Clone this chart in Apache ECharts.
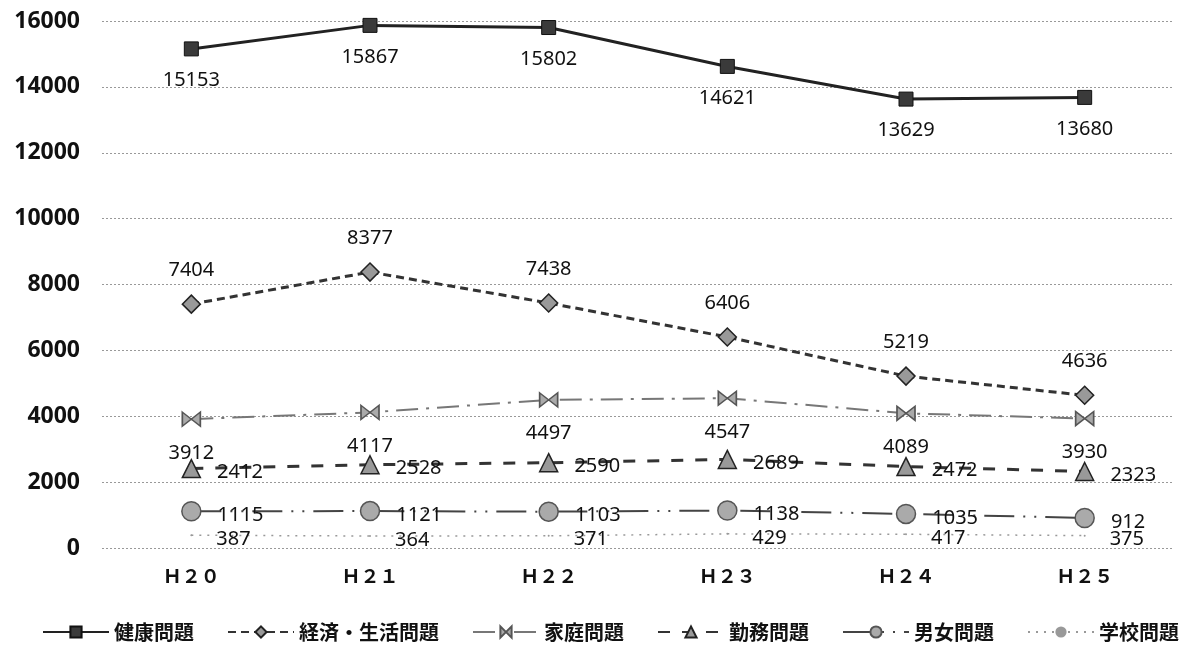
<!DOCTYPE html>
<html>
<head>
<meta charset="utf-8">
<script src="https://cdn.jsdelivr.net/npm/echarts@6/dist/echarts.min.js"></script>
<style>
html,body{margin:0;padding:0;background:#fff;}
#chart{width:1196px;height:646px;}
</style>
</head>
<body>
<div id="chart"></div>
<script>
const categories = ['Ｈ２０','Ｈ２１','Ｈ２２','Ｈ２３','Ｈ２４','Ｈ２５'];
const seriesNames = ['健康問題','経済・生活問題','家庭問題','勤務問題','男女問題','学校問題'];
const health  = [15153,15867,15802,14621,13629,13680];
const economy = [7404,8377,7438,6406,5219,4636];
const family  = [3912,4117,4497,4547,4089,3930];
const work    = [2412,2528,2590,2689,2472,2323];
const gender  = [1115,1121,1103,1138,1035,912];
const school  = [387,364,371,429,417,375];
const yTicks  = {min:0, max:16000, interval:2000};

const labelFont = {fontFamily:'"Noto Sans", sans-serif', fontSize:20, color:'#111'};

const chart = echarts.init(document.getElementById('chart'), null, {renderer:'canvas'});
chart.setOption({
  backgroundColor:'#fff',
  animation:false,
  grid:{left:102, right:22, top:21, bottom:98, containLabel:false},
  xAxis:{
    type:'category', data:categories, boundaryGap:true,
    axisLine:{show:false}, axisTick:{show:false},
    axisLabel:{margin:18, fontFamily:'"Noto Sans CJK JP", sans-serif', fontWeight:'bold', fontSize:19, color:'#111'}
  },
  yAxis:{
    type:'value', min:yTicks.min, max:yTicks.max, interval:yTicks.interval,
    axisLine:{show:false}, axisTick:{show:false},
    axisLabel:{margin:22, fontFamily:'"Noto Sans", sans-serif', fontWeight:'bold', fontSize:23, color:'#111',
      formatter:(v)=>String(v)},
    splitLine:{lineStyle:{color:'#999', width:1, type:[2,2]}}
  },
  legend:{
    top:622, left:42, padding:0, itemWidth:66, itemHeight:14, itemGap:33,
    textStyle:{fontFamily:'"Noto Sans CJK JP", sans-serif', fontWeight:'bold', fontSize:20, color:'#111'},
    data:seriesNames
  },
  series:[
    {name:seriesNames[0], type:'line', data:health, symbol:'rect', symbolSize:14,
     lineStyle:{color:'#222', width:3, type:'solid'},
     itemStyle:{color:'#3a3a3a', borderColor:'#111', borderWidth:1},
     label:{show:true, position:'bottom', distance:14, ...labelFont}},
    {name:seriesNames[1], type:'line', data:economy, symbol:'diamond', symbolSize:18,
     lineStyle:{color:'#333', width:3, type:[8,5]},
     itemStyle:{color:'#999', borderColor:'#222', borderWidth:1.5},
     label:{show:true, position:'top', distance:14, ...labelFont}},
    {name:seriesNames[2], type:'line', data:family, symbol:'path://M0,0L10,10L10,0L0,10Z', symbolSize:[18,14],
     lineStyle:{color:'#777', width:2, type:[22,8,3,8]},
     itemStyle:{color:'#aaa', borderColor:'#555', borderWidth:1.5},
     label:{show:true, position:'bottom', distance:16, ...labelFont}},
    {name:seriesNames[3], type:'line', data:work, symbol:'triangle', symbolSize:18,
     lineStyle:{color:'#333', width:3, type:[12,12]},
     itemStyle:{color:'#999', borderColor:'#222', borderWidth:1.5},
     label:{show:true, position:'right', distance:16, offset:[0,4], ...labelFont}},
    {name:seriesNames[4], type:'line', data:gender, symbol:'circle', symbolSize:19,
     lineStyle:{color:'#444', width:2, type:[30,9,2,9,2,9]},
     itemStyle:{color:'#aaa', borderColor:'#555', borderWidth:1.5},
     label:{show:true, position:'right', distance:16, offset:[0,4], ...labelFont}},
    {name:seriesNames[5], type:'line', data:school, symbol:'circle', symbolSize:2,
     lineStyle:{color:'#999', width:1.5, type:[2,6]},
     itemStyle:{color:'#999'},
     label:{show:true, position:'right', distance:24, offset:[0,4], ...labelFont}}
  ]
});
</script>
</body>
</html>
